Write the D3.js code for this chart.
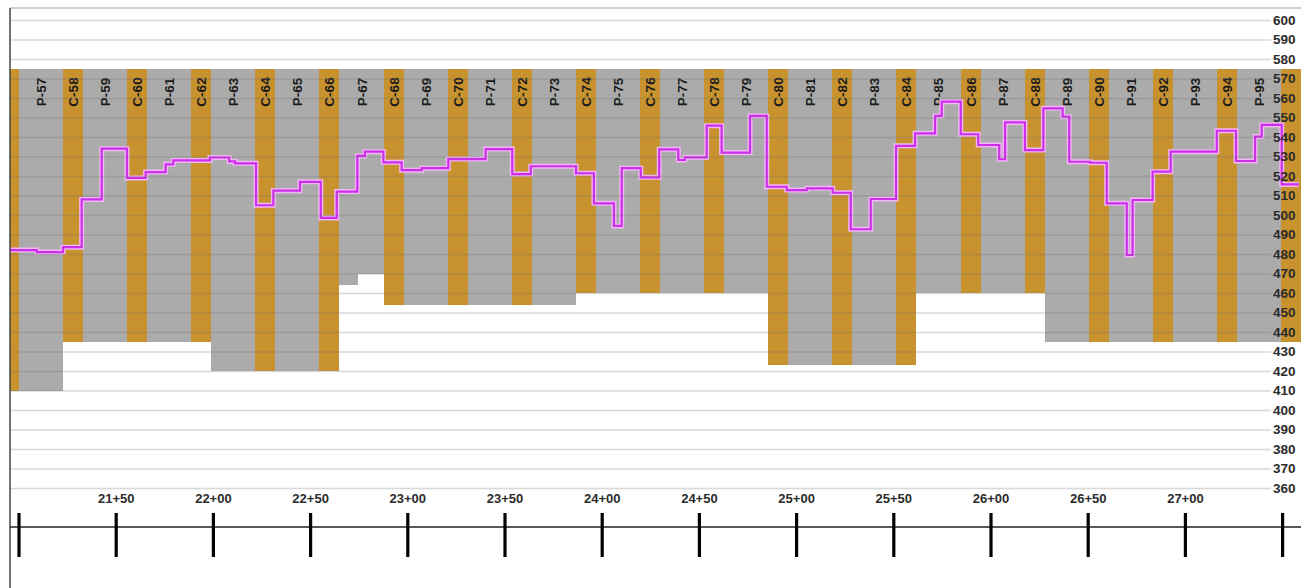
<!DOCTYPE html>
<html><head><meta charset="utf-8">
<script src="https://cdn.jsdelivr.net/npm/d3@7"></script>
<style>body{margin:0;background:#fff}svg{display:block}</style>
</head><body><svg id="c" width="1301" height="588"></svg>
<script>
// ---------- data ----------
const topElev = 575;
const capNames = ["C-56","C-58","C-60","C-62","C-64","C-66","C-68","C-70","C-72","C-74","C-76","C-78","C-80","C-82","C-84","C-86","C-88","C-90","C-92","C-94","C-96"];
const capStart = [2089.9,2122.9,2155.9,2188.8,2221.8,2254.8,2287.8,2320.8,2353.7,2386.7,2419.7,2452.7,2485.7,2518.6,2551.6,2584.6,2617.6,2650.6,2683.5,2716.5,2749.5];
const capEnd   = [2100.2,2133.2,2166.2,2199.1,2232.1,2265.1,2298.1,2331.1,2364.0,2397.0,2430.0,2463.0,2496.0,2528.9,2561.9,2594.9,2627.9,2660.9,2693.8,2726.8,2759.8];
const capBottom = [410,435,435,435,420,420,454,454,454,460,460,460,423,423,423,460,460,435,435,435,435];
// caps whose label is shown (edge caps are cut off by the frame)
const capLabelShown = [false,true,true,true,true,true,true,true,true,true,true,true,true,true,true,true,true,true,true,true,false];
const pierNames = ["P-57","P-59","P-61","P-63","P-65","P-67","P-69","P-71","P-73","P-75","P-77","P-79","P-81","P-83","P-85","P-87","P-89","P-91","P-93","P-95"];
const pierBottom = [410,435,435,420,420,464,454,454,454,460,460,460,423,423,460,460,435,435,435,435];
// a pier whose bottom steps part-way across: [pier name, station of step, new bottom]
const pierSteps = [["P-67", 2274.6, 470]];
const profileStation = [2088,2109.4,2122.9,2132.5,2142.8,2155.8,2165.4,2175.7,2179.6,2198.5,2208.4,2211.4,2222.2,2231.1,2244.8,2255.5,2263.7,2274.3,2278.2,2287.7,2297.1,2307.4,2321.1,2340.3,2354.0,2363.5,2386.8,2396.0,2406.3,2410.3,2420.1,2429.6,2439.4,2442.8,2454.0,2461.7,2476.3,2484.9,2495.2,2505.5,2518.8,2528.1,2538.4,2551.4,2561.2,2571.5,2574.9,2584.7,2593.7,2604.5,2607.5,2617.7,2627.2,2637.1,2640.5,2651.2,2659.8,2670.1,2673.1,2683.4,2692.7,2716.4,2726.3,2736.1,2739.5,2749.8,2758.5];
const profileElev    = [482,481,483.5,508,534,519,522,526,528,529.5,527.5,526.5,505,512.5,517,498.5,512,530.3,532.5,527,523,524,528.7,533.8,521,525,521.4,506,494.4,524,519.3,533.7,528.2,529.6,545.8,532,550.8,514.5,512.8,513.7,511.4,492.7,508.2,535.5,541.9,550.8,558.1,541.4,535.9,528.6,547.5,533.3,554.7,550.4,527.3,526.8,506,479.5,507.7,522.2,532.5,543.2,527.7,540.2,546.2,515.7,515.7];
const stationTicks  = [2100,2150,2200,2250,2300,2350,2400,2450,2500,2550,2600,2650,2700,2750];
const stationLabels = ["","21+50","22+00","22+50","23+00","23+50","24+00","24+50","25+00","25+50","26+00","26+50","27+00",""];
const elevTicks = [360,370,380,390,400,410,420,430,440,450,460,470,480,490,500,510,520,530,540,550,560,570,580,590,600];

// ---------- layout ----------
const svg = d3.select("#c");
const W = 1301, H = 588;
const plotL = 10, plotT = 8, gridR = 1271;
const x = d3.scaleLinear().domain([2100, 2750]).range([18.5, 1282.1]);
const y = d3.scaleLinear().domain([360, 600]).range([488, 20]);

const FONT = "'Liberation Sans', Arial, sans-serif";
const GRAY = "#ababab", GOLD = "#c8922e";

svg.append("defs").append("clipPath").attr("id","plotclip")
  .append("rect").attr("x", plotL).attr("y", plotT).attr("width", W - plotL).attr("height", 500);

const plot = svg.append("g").attr("clip-path","url(#plotclip)");

// piers (gray)
const pierSegs = [];
pierNames.forEach((n,i) => {
  const s0 = capEnd[i], s1 = capStart[i+1];
  const step = pierSteps.find(p => p[0] === n);
  if (step) {
    pierSegs.push({s0, s1: step[1], b: pierBottom[i]});
    pierSegs.push({s0: step[1], s1, b: step[2]});
  } else pierSegs.push({s0, s1, b: pierBottom[i]});
});
plot.selectAll("rect.pier").data(pierSegs).join("rect").attr("class","pier")
  .attr("x", d => x(d.s0)).attr("width", d => x(d.s1) - x(d.s0))
  .attr("y", y(topElev)).attr("height", d => y(d.b) - y(topElev))
  .attr("fill", GRAY).attr("shape-rendering","crispEdges");

// caps (gold)
plot.selectAll("rect.cap").data(capNames).join("rect").attr("class","cap")
  .attr("x", (d,i) => x(capStart[i])).attr("width", (d,i) => x(capEnd[i]) - x(capStart[i]))
  .attr("y", y(topElev)).attr("height", (d,i) => y(capBottom[i]) - y(topElev))
  .attr("fill", GOLD).attr("shape-rendering","crispEdges");

// gridlines
const grid = d3.axisLeft(y).tickValues(elevTicks).tickSize(-(gridR - plotL)).tickFormat("");
svg.append("g").attr("transform", `translate(${plotL},0)`).call(grid)
  .call(g => g.select(".domain").remove())
  .call(g => g.selectAll("line").attr("stroke","rgba(120,120,120,0.28)").attr("stroke-width",1.6));

// bar labels
const labels = [];
capNames.forEach((n,i) => { if (capLabelShown[i]) labels.push({n, s: (capStart[i] + capEnd[i]) / 2}); });
pierNames.forEach((n,i) => labels.push({n, s: (capEnd[i] + capStart[i+1]) / 2}));
plot.selectAll("text.lbl").data(labels).join("text").attr("class","lbl")
  .attr("transform", d => `translate(${x(d.s) + 5},92) rotate(-90)`)
  .attr("text-anchor","middle")
  .style("font-family", FONT).style("font-weight","bold").style("font-size","13.5px")
  .attr("fill","#1a1a1a").text(d => d.n);

// profile line
const pts = profileStation.map((s,i) => [s, profileElev[i]]);
const line = d3.line().x(d => x(d[0])).y(d => y(d[1])).curve(d3.curveStepAfter);
plot.append("path").attr("d", line(pts)).attr("fill","none")
  .attr("stroke","#f3b6f8").attr("stroke-width",5).attr("stroke-linejoin","miter");
plot.append("path").attr("d", line(pts)).attr("fill","none")
  .attr("stroke","#cc2fe8").attr("stroke-width",2.2).attr("stroke-linejoin","miter");

// right elevation labels
const yAx = d3.axisRight(y).tickValues(elevTicks).tickSize(0).tickPadding(2).tickFormat(d3.format("d"));
svg.append("g").attr("transform", `translate(${gridR},0)`).call(yAx)
  .call(g => g.select(".domain").remove())
  .call(g => g.selectAll("text").style("font-family", FONT).style("font-size","13.5px")
    .style("font-weight","bold").attr("fill","#2b2b2b"));

// borders
svg.append("line").attr("x1", plotL).attr("x2", W).attr("y1", plotT).attr("y2", plotT)
  .attr("stroke","#a0a0a0").attr("stroke-width",1.2);
svg.append("line").attr("x1", plotL).attr("x2", plotL).attr("y1", plotT).attr("y2", H)
  .attr("stroke","#444").attr("stroke-width",1.5);

// station axis
svg.append("line").attr("x1", plotL).attr("x2", W).attr("y1", 527).attr("y2", 527)
  .attr("stroke","#222").attr("stroke-width",1.5);
const xTicks = d3.axisBottom(x).tickValues(stationTicks).tickSize(44).tickFormat("");
svg.append("g").attr("transform","translate(0,513)").call(xTicks)
  .call(g => g.select(".domain").remove())
  .call(g => g.selectAll("line").attr("stroke","#000").attr("stroke-width",3.2));
const xLab = d3.axisBottom(x).tickValues(stationTicks).tickSize(0).tickPadding(0)
  .tickFormat((d,i) => stationLabels[i]);
svg.append("g").attr("transform","translate(0,494)").call(xLab)
  .call(g => g.select(".domain").remove())
  .call(g => g.selectAll("text").style("font-family", FONT).style("font-size","13px")
    .style("font-weight","bold").attr("fill","#2b2b2b"));
</script>
</body></html>
